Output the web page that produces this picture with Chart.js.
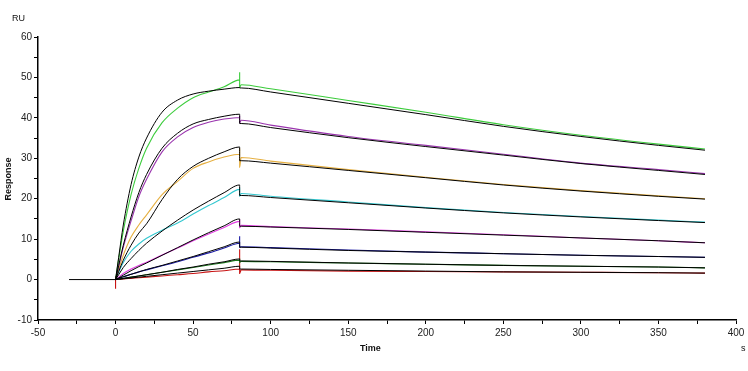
<!DOCTYPE html>
<html>
<head>
<meta charset="utf-8">
<script src="https://cdn.jsdelivr.net/npm/chart.js@4"></script>
<style>
  body { margin: 0; background: #fff; }
  #wrap { position: relative; width: 748px; height: 371px; }
  .lbl { position: absolute; font-family: "Liberation Sans", Arial, sans-serif; color: #111; }
</style>
</head>
<body>
<div id="wrap">
  <canvas id="chart"></canvas>
  <div class="lbl" style="left:12px; top:13px; font-size:9px;">RU</div>
  <div class="lbl" style="left:-20px; top:174px; font-size:9px; font-weight:bold; transform:rotate(-90deg); width:56px; text-align:center;">Response</div>
  <div class="lbl" style="left:360px; top:343px; font-size:9px; font-weight:bold;">Time</div>
  <div class="lbl" style="left:741px; top:343px; font-size:9px;">s</div>
</div>
<script>
// time points (s)
const baselineTimes = [-30, 0];
const assocTimes = [0, 2, 5, 10, 15, 20, 30, 40, 50, 60, 70, 80];
const dissocTimes = [81, 100, 150, 200, 250, 300, 350, 380];

// measured responses (RU): association / spike at 80 s / dissociation
const greenAssoc = [0, 5, 12, 21, 27.5, 32.5, 38.8, 42.4, 45, 46.4, 47.7, 49.4];
const greenSpike = [51.3, 47.5];
const greenDissoc = [48.2, 47.2, 44.3, 41.4, 38.3, 35.7, 33.5, 32.3];

const purpleAssoc = [0, 3.2, 8, 14.5, 20.5, 24.8, 31.6, 35.3, 37.6, 38.9, 39.7, 40.1];
const purpleSpike = [40.5, 38.8];
const purpleDissoc = [39.4, 38.2, 35.4, 33.2, 31, 28.8, 27.2, 26.2];

const orangeAssoc = [0, 2.5, 6, 10.5, 13.5, 16, 21, 24.3, 27.5, 29.1, 30.3, 31];
const orangeSpike = [32.5, 27.8];
const orangeDissoc = [30.2, 29.3, 27.2, 25.3, 23.5, 22, 20.7, 20];

const cyanAssoc = [0, 1.8, 4.2, 7, 8.8, 10.2, 12.2, 14, 16.2, 18.3, 20.3, 22.3];
const cyanSpike = [22.8, 20.6];
const cyanDissoc = [21.3, 20.6, 19.2, 17.8, 16.6, 15.6, 14.7, 14.2];

const magentaAssoc = [0, 0.6, 1.5, 2.6, 3.5, 4.3, 6.1, 7.8, 9.6, 11.3, 12.9, 14.4];
const magentaSpike = [14.9, 12.8];
const magentaDissoc = [13.4, 13.1, 12.5, 11.8, 11.1, 10.3, 9.6, 9.1];

const blueAssoc = [0, 0.3, 0.7, 1.3, 1.9, 2.4, 3.4, 4.4, 5.5, 6.6, 7.8, 9];
const blueSpike = [10.7, 8];
const blueDissoc = [8.1, 7.9, 7.3, 6.8, 6.4, 6, 5.7, 5.5];

const darkGreenAssoc = [0, 0.1, 0.3, 0.6, 0.9, 1.2, 1.8, 2.4, 3, 3.6, 4.2, 4.8];
const darkGreenSpike = [5.2, 4.2];
const darkGreenDissoc = [4.5, 4.4, 4.1, 3.8, 3.5, 3.3, 3.1, 2.9];

const redStart = [-2.3, 0.8];
const redAssoc = [0, 0.05, 0.15, 0.3, 0.45, 0.6, 0.9, 1.2, 1.5, 1.9, 2.2, 2.6];
const redSpike = [7.5, 1.5];
const redDissoc = [2.4, 2.3, 2.1, 2, 1.9, 1.8, 1.7, 1.6];

// fitted curves (RU)
const baselineValues = [0, 0];
const greenFitAssoc = [0, 5.5, 13.5, 23.5, 30.3, 35, 41.4, 44.4, 45.9, 46.6, 47.1, 47.5];
const greenFitDissoc = [47.4, 46.4, 43.6, 40.8, 37.9, 35.4, 33.2, 32];
const purpleFitAssoc = [0, 3.5, 8.5, 15.5, 21.5, 26, 32.5, 36.2, 38.5, 39.6, 40.4, 40.9];
const purpleFitDissoc = [38.6, 37.6, 35.1, 32.9, 30.8, 28.7, 27, 26];
const orangeFitAssoc = [0, 2, 4.8, 8.5, 11.5, 13.8, 19.8, 24.8, 28, 30, 31.6, 32.8];
const orangeFitDissoc = [29.4, 28.8, 27, 25.2, 23.4, 21.9, 20.6, 19.9];
const cyanFitAssoc = [0, 1.2, 3, 5.2, 7.2, 9, 12, 14.7, 17.2, 19.4, 21.5, 23.4];
const cyanFitDissoc = [20.8, 20.3, 19, 17.7, 16.5, 15.5, 14.6, 14.1];
const magentaFitAssoc = [0, 0.4, 1.1, 2.2, 3.2, 4.1, 6, 7.9, 9.8, 11.6, 13.3, 15];
const magentaFitDissoc = [13.2, 13, 12.4, 11.7, 11, 10.3, 9.6, 9.1];
const blueFitAssoc = [0, 0.3, 0.7, 1.3, 1.9, 2.5, 3.5, 4.6, 5.7, 6.9, 8.1, 9.3];
const blueFitDissoc = [8, 7.8, 7.2, 6.8, 6.4, 6, 5.7, 5.5];
const darkGreenFitAssoc = [0, 0.1, 0.3, 0.6, 0.9, 1.2, 1.8, 2.5, 3.1, 3.8, 4.4, 5.1];
const darkGreenFitDissoc = [4.6, 4.5, 4.1, 3.8, 3.5, 3.3, 3.1, 2.9];
const redFitAssoc = [0, 0.1, 0.2, 0.4, 0.6, 0.8, 1.2, 1.6, 2, 2.4, 2.8, 3.3];
const redFitDissoc = [2.6, 2.5, 2.3, 2.1, 1.9, 1.8, 1.7, 1.6];

// --- helpers ---
const toPoints = (times, values) => times.map((t, i) => ({ x: t, y: values[i] }));

const makeMeasured = (assoc, spike, dissoc, start) => {
  let pts = [];
  if (start) pts = start.map(v => ({ x: 0, y: v }));
  pts = pts.concat(toPoints(assocTimes, assoc));
  pts = pts.concat(spike.map(v => ({ x: 80, y: v })));
  return pts.concat(toPoints(dissocTimes, dissoc));
};

const makeFit = (assoc, dissoc) =>
  toPoints(assocTimes, assoc).concat([{ x: 80, y: dissoc[0] }], toPoints(dissocTimes, dissoc));

const measured = [
  { color: "#3ccc3c", data: makeMeasured(greenAssoc, greenSpike, greenDissoc) },
  { color: "#9a34ae", data: makeMeasured(purpleAssoc, purpleSpike, purpleDissoc) },
  { color: "#e6b042", data: makeMeasured(orangeAssoc, orangeSpike, orangeDissoc) },
  { color: "#34c8d0", data: makeMeasured(cyanAssoc, cyanSpike, cyanDissoc) },
  { color: "#e23ce2", data: makeMeasured(magentaAssoc, magentaSpike, magentaDissoc) },
  { color: "#1a1aa4", data: makeMeasured(blueAssoc, blueSpike, blueDissoc) },
  { color: "#1a781a", data: makeMeasured(darkGreenAssoc, darkGreenSpike, darkGreenDissoc) },
  { color: "#c81414", data: makeMeasured(redAssoc, redSpike, redDissoc, redStart) }
];

const fits = [
  toPoints(baselineTimes, baselineValues),
  makeFit(greenFitAssoc, greenFitDissoc),
  makeFit(purpleFitAssoc, purpleFitDissoc),
  makeFit(orangeFitAssoc, orangeFitDissoc),
  makeFit(cyanFitAssoc, cyanFitDissoc),
  makeFit(magentaFitAssoc, magentaFitDissoc),
  makeFit(blueFitAssoc, blueFitDissoc),
  makeFit(darkGreenFitAssoc, darkGreenFitDissoc),
  makeFit(redFitAssoc, redFitDissoc)
];

const datasets = [];
fits.forEach(f => datasets.push({
  data: f, borderColor: "#000", borderWidth: 1, pointRadius: 0, cubicInterpolationMode: "monotone", order: 0
}));
measured.forEach(m => datasets.push({
  data: m.data, borderColor: m.color, borderWidth: 1.1, pointRadius: 0, cubicInterpolationMode: "monotone", order: 1
}));

const tickFont = { family: "'Liberation Sans', Arial, sans-serif", size: 10 };

new Chart(document.getElementById("chart"), {
  type: "line",
  data: { datasets: datasets },
  options: {
    responsive: true,
    maintainAspectRatio: false,
    animation: false,
    layout: { padding: { top: 37, right: 12, bottom: 0, left: 0 } },
    plugins: { legend: { display: false }, tooltip: { enabled: false } },
    scales: {
      x: {
        type: "linear", min: -50, max: 400,
        afterFit: (scale) => { scale.height = 51; },
        border: { color: "#000", width: 1.5 },
        grid: { drawOnChartArea: false, tickLength: 4, color: "#000" },
        ticks: {
          stepSize: 25, padding: 3, color: "#222", font: tickFont, maxRotation: 0, autoSkip: false,
          callback: (v) => (v % 50 === 0 ? v : "")
        }
      },
      y: {
        type: "linear", min: -10, max: 60,
        afterFit: (scale) => { scale.width = 38; },
        border: { color: "#000", width: 1.5 },
        grid: { drawOnChartArea: false, tickLength: 4, color: "#000" },
        ticks: {
          stepSize: 5, padding: 2, color: "#222", font: tickFont, autoSkip: false,
          callback: (v) => (v % 10 === 0 ? v : "")
        }
      }
    }
  }
});
</script>
</body>
</html>
